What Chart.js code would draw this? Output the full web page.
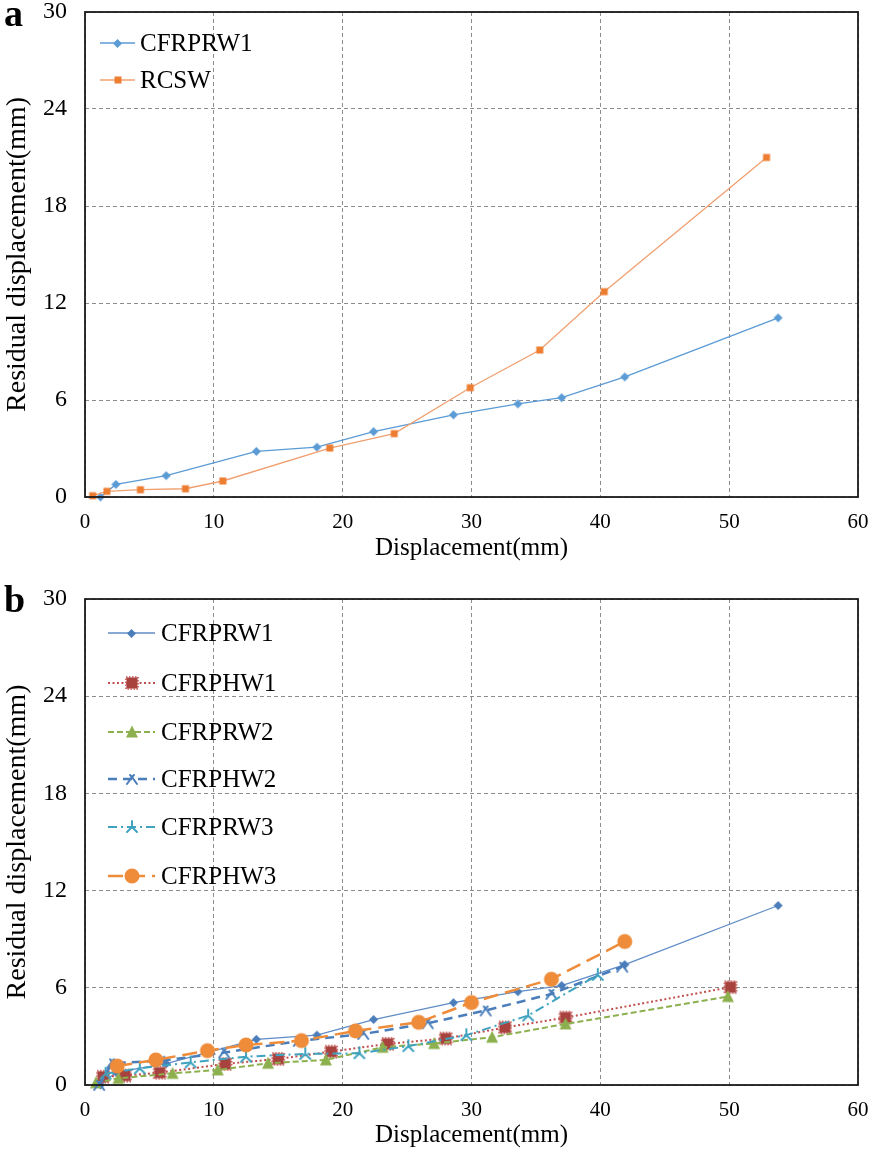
<!DOCTYPE html>
<html>
<head>
<meta charset="utf-8">
<script src="https://cdn.jsdelivr.net/npm/chart.js@4.4.1/dist/chart.umd.min.js"></script>
<style>
  html,body{margin:0;padding:0;background:#fff;}
  body{width:874px;height:1157px;position:relative;overflow:hidden;font-family:'Liberation Serif','Times New Roman',serif;}
  .wrap{position:absolute;left:0;width:874px;}
  .tag{position:absolute;left:4px;font-family:'Liberation Serif',serif;font-weight:bold;font-size:38px;line-height:1;color:#000;}
</style>
</head>
<body>
<div class="wrap" style="top:0;height:570px;"><canvas id="ca" width="874" height="570"></canvas></div>
<div class="wrap" style="top:578px;height:579px;"><canvas id="cb" width="874" height="579"></canvas></div>
<div class="tag" style="top:-6px;">a</div>
<div class="tag" style="top:580px;">b</div>
<script>
// ---------------- DATA ----------------
const xTicks = [0, 10, 20, 30, 40, 50, 60];
const yTicks = [0, 6, 12, 18, 24, 30];

// Chart a
const cfrprw1X = [1.2, 2.4, 6.3, 13.3, 18.0, 22.4, 28.6, 33.6, 37.0, 41.9, 53.8];
const cfrprw1Y = [0.0, 0.78, 1.32, 2.82, 3.08, 4.04, 5.08, 5.76, 6.14, 7.43, 11.08];
const rcswX = [0.6, 1.7, 4.3, 7.8, 10.7, 19.0, 24.0, 29.9, 35.3, 40.3, 52.9];
const rcswY = [0.08, 0.35, 0.45, 0.51, 0.99, 3.03, 3.92, 6.76, 9.09, 12.7, 21.0];

// Chart b
const cfrphw1X = [1.4, 3.1, 5.8, 10.9, 15.0, 19.1, 23.5, 28.0, 32.6, 37.3, 50.1];
const cfrphw1Y = [0.51, 0.58, 0.76, 1.30, 1.61, 2.06, 2.54, 2.87, 3.55, 4.16, 6.04];
const cfrprw2X = [0.85, 2.6, 6.8, 10.3, 14.2, 18.7, 23.1, 27.1, 31.6, 37.3, 49.9];
const cfrprw2Y = [0.14, 0.41, 0.72, 0.93, 1.34, 1.55, 2.33, 2.56, 2.95, 3.77, 5.46];
const cfrphw2X = [1.1, 2.1, 6.0, 10.8, 16.6, 21.6, 26.6, 31.1, 36.2, 41.7];
const cfrphw2Y = [0.0, 1.34, 1.5, 2.0, 2.72, 3.15, 3.81, 4.6, 5.62, 7.3];
const cfrprw3X = [1.6, 4.25, 8.2, 12.5, 17.1, 21.3, 25.1, 29.6, 34.4, 39.8];
const cfrprw3Y = [0.7, 1.03, 1.4, 1.75, 1.92, 1.96, 2.4, 3.08, 4.29, 6.8];
const cfrphw3X = [2.5, 5.5, 9.5, 12.5, 16.8, 21.0, 25.9, 30.0, 36.2, 41.9];
const cfrphw3Y = [1.17, 1.55, 2.12, 2.47, 2.74, 3.34, 3.87, 5.09, 6.53, 8.86];

const labelsA = ['CFRPRW1', 'RCSW'];
const labelsB = ['CFRPRW1', 'CFRPHW1', 'CFRPRW2', 'CFRPHW2', 'CFRPRW3', 'CFRPHW3'];
const xTitle = 'Displacement(mm)';
const yTitle = 'Residual displacement(mm)';

// ---------------- MARKERS ----------------
function mk(size, draw) {
  const c = document.createElement('canvas');
  c.width = size; c.height = size;
  const ctx = c.getContext('2d');
  ctx.translate(size / 2, size / 2);
  draw(ctx);
  return c;
}
function diamond(color, r) {
  return mk(2 * r + 2, ctx => {
    ctx.fillStyle = color;
    ctx.beginPath(); ctx.moveTo(0, -r); ctx.lineTo(r, 0); ctx.lineTo(0, r); ctx.lineTo(-r, 0); ctx.closePath(); ctx.fill();
  });
}
const mDiamondA = diamond('#5B9BD5', 4.5);
const mDiamondB = diamond('#4A7DBA', 4.5);
const mSquareA = mk(10, ctx => { ctx.fillStyle = '#ED7D31'; ctx.fillRect(-3.5, -3.5, 7, 7); });
const mRed = mk(16, ctx => {
  ctx.fillStyle = '#A8423F'; ctx.fillRect(-5.5, -5.5, 11, 11);
  ctx.strokeStyle = '#C0504D'; ctx.lineWidth = 1.6; ctx.setLineDash([1.5, 1.5]);
  ctx.strokeRect(-6, -6, 12, 12);
});
const mTri = mk(16, ctx => {
  ctx.fillStyle = '#8DB04E';
  ctx.beginPath(); ctx.moveTo(0, -6.5); ctx.lineTo(6, 5.5); ctx.lineTo(-6, 5.5); ctx.closePath(); ctx.fill();
});
const mChev = mk(16, ctx => {
  ctx.strokeStyle = '#4A7EBB'; ctx.lineWidth = 2; ctx.lineCap = 'round';
  ctx.beginPath(); ctx.moveTo(-5, 5); ctx.lineTo(0, -2); ctx.lineTo(5, 5); ctx.stroke();
  ctx.beginPath(); ctx.moveTo(-2, -4); ctx.lineTo(0, -2); ctx.lineTo(2, -4); ctx.stroke();
});
const mStar = mk(16, ctx => {
  ctx.strokeStyle = '#3FA3BF'; ctx.lineWidth = 2; ctx.lineCap = 'round';
  ctx.beginPath(); ctx.moveTo(0, -6); ctx.lineTo(0, 0); ctx.moveTo(0, 0); ctx.lineTo(-5, 5); ctx.moveTo(0, 0); ctx.lineTo(5, 5); ctx.stroke();
});
const mCircle = mk(18, ctx => {
  ctx.fillStyle = '#EE8C3A';
  ctx.beginPath(); ctx.arc(0, 0, 7.5, 0, Math.PI * 2); ctx.fill();
});

function pts(xs, ys) { return xs.map((x, i) => ({ x: x, y: ys[i] })); }

function ds(label, xs, ys, color, width, dash, marker, order) {
  return {
    label: label, data: pts(xs, ys), showLine: true,
    borderColor: color, backgroundColor: color, borderWidth: width, borderDash: dash,
    pointStyle: marker, pointRadius: 5, pointHoverRadius: 5,
    clip: 10, order: order, tension: 0
  };
}

// ---------------- PLUGINS ----------------
const framePlugin = {
  id: 'frame',
  afterDraw(chart) {
    const a = chart.chartArea, ctx = chart.ctx;
    ctx.save();
    ctx.strokeStyle = '#1a1a1a'; ctx.lineWidth = 1.8; ctx.setLineDash([]);
    ctx.strokeRect(a.left, a.top, a.right - a.left, a.bottom - a.top);
    ctx.restore();
  }
};
const legendPlugin = {
  id: 'myLegend',
  afterDraw(chart, args, opts) {
    const ctx = chart.ctx;
    ctx.save();
    chart.data.datasets.forEach((d, i) => {
      const y = opts.ys[i];
      ctx.strokeStyle = d.borderColor; ctx.lineWidth = d.borderWidth;
      ctx.setLineDash(d.borderDash || []);
      ctx.beginPath(); ctx.moveTo(opts.x0, y); ctx.lineTo(opts.x0 + opts.len, y); ctx.stroke();
      ctx.setLineDash([]);
      const m = d.pointStyle;
      ctx.drawImage(m, Math.round(opts.x0 + opts.len / 2 - m.width / 2), Math.round(y - m.height / 2));
      ctx.fillStyle = '#000'; ctx.font = opts.font; ctx.textBaseline = 'middle'; ctx.textAlign = 'left';
      ctx.fillText(d.label, opts.x0 + opts.len + opts.gap, y + 1);
    });
    ctx.restore();
  }
};

function makeOptions(padTop, xHeight, legendOpts) {
  return {
    responsive: false, animation: false,
    layout: { padding: { left: 0, right: 16, top: padTop, bottom: 0 } },
    plugins: { legend: { display: false }, tooltip: { enabled: false }, myLegend: legendOpts },
    scales: {
      x: {
        type: 'linear', min: 0, max: 60,
        afterBuildTicks: s => { s.ticks = xTicks.map(v => ({ value: v })); },
        afterFit: s => { s.height = xHeight; s.paddingLeft = 0; s.paddingRight = 0; },
        grid: { color: '#8c8c8c', lineWidth: 1, drawTicks: false },
        border: { display: false, dash: [4, 3] },
        ticks: { color: '#000', padding: 13, font: { family: 'Liberation Serif', size: 21 }, maxRotation: 0 },
        title: { display: true, text: xTitle, color: '#000', font: { family: 'Liberation Serif', size: 25 }, padding: { top: 0, bottom: 7 } }
      },
      y: {
        type: 'linear', min: 0, max: 30,
        afterBuildTicks: s => { s.ticks = yTicks.map(v => ({ value: v })); },
        afterFit: s => { s.width = 85; s.paddingTop = 0; s.paddingBottom = 0; },
        grid: { color: '#8c8c8c', lineWidth: 1, drawTicks: false },
        border: { display: false, dash: [4, 3] },
        ticks: { color: '#000', padding: 18, font: { family: 'Liberation Serif', size: 24 } },
        title: { display: true, text: yTitle, color: '#000', font: { family: 'Liberation Serif', size: 28 }, padding: { top: 1, bottom: 0 } }
      }
    }
  };
}

// ---------------- CHART A ----------------
new Chart(document.getElementById('ca'), {
  type: 'scatter',
  data: {
    datasets: [
      ds(labelsA[0], cfrprw1X, cfrprw1Y, '#5B9BD5', 1.3, [], mDiamondA, 2),
      ds(labelsA[1], rcswX, rcswY, '#F0A070', 1.3, [], mSquareA, 1)
    ]
  },
  options: makeOptions(12, 73, { x0: 100, len: 35, gap: 5, ys: [43, 80], font: '25px "Liberation Serif"' }),
  plugins: [framePlugin, legendPlugin]
});

// ---------------- CHART B ----------------
new Chart(document.getElementById('cb'), {
  type: 'scatter',
  data: {
    datasets: [
      ds(labelsB[0], cfrprw1X, cfrprw1Y, '#5F8CC6', 1.3, [], mDiamondB, 6),
      ds(labelsB[1], cfrphw1X, cfrphw1Y, '#C0504D', 2, [2, 2.5], mRed, 5),
      ds(labelsB[2], cfrprw2X, cfrprw2Y, '#8DB04E', 2, [6, 3], mTri, 4),
      ds(labelsB[3], cfrphw2X, cfrphw2Y, '#4A7EBB', 2.5, [9, 6], mChev, 3),
      ds(labelsB[4], cfrprw3X, cfrprw3Y, '#3FA3BF', 2, [9, 4, 2, 4], mStar, 2),
      ds(labelsB[5], cfrphw3X, cfrphw3Y, '#EE8C3A', 2.5, [15, 7], mCircle, 1)
    ]
  },
  options: makeOptions(21, 72, { x0: 108, len: 47, gap: 6, ys: [55, 105, 154, 201, 249, 298], font: '25px "Liberation Serif"' }),
  plugins: [framePlugin, legendPlugin]
});
</script>
</body>
</html>
